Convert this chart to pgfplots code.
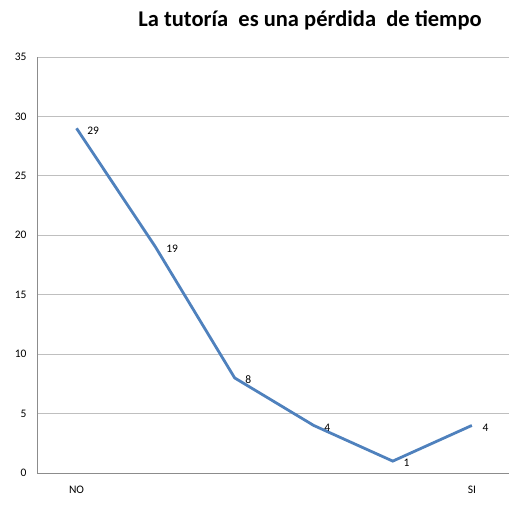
\documentclass[border=0pt]{standalone}
\usepackage{pgfplots}
\pgfplotsset{compat=1.18}
\usepackage{fontspec}
\setmainfont{Carlito}
\definecolor{serie}{HTML}{4F81BD}
\definecolor{grid}{HTML}{8C8C8C}
\begin{document}
\begin{tikzpicture}
\begin{axis}[
  at={(0pt,0pt)}, anchor=south west,
  scale only axis, width=472pt, height=416pt,
  xmin=-0.5, xmax=5.47, ymin=0, ymax=35,
  ytick={0,5,...,35},
  xtick={0,1,2,3,4,5},
  xticklabels={NO,,,,,SI},
  axis x line*=bottom, axis y line*=left,
  axis line style={grid, line width=0.8pt, -},
  xmajorgrids=false, ymajorgrids=true,
  major grid style={grid, line width=0.8pt},
  major tick length=0pt,
  tick label style={font=\fontsize{11.5}{13}\selectfont, text=black},
  yticklabel style={xshift=-7pt},
  xticklabel style={yshift=-10pt},
  /pgf/number format/assume math mode=true,
  clip=false,
]
\addplot[color=serie, line width=2.8pt, mark=none,
  nodes near coords,
  every node near coord/.append style={font=\fontsize{11.5}{13}\selectfont, text=black, anchor=west, xshift=6pt, yshift=-2pt}]
  coordinates {(0,29) (1,19) (2,8) (3,4) (4,1) (5,4)};
\end{axis}
\node[font=\bfseries\fontsize{22.5}{26}\selectfont] at (273pt,453pt) {La tutoría\ \ es una pérdida\ \ de tiempo};
\pgfresetboundingbox
\path[use as bounding box] (-37pt,-35pt) rectangle (472pt,473pt);
\end{tikzpicture}
\end{document}
